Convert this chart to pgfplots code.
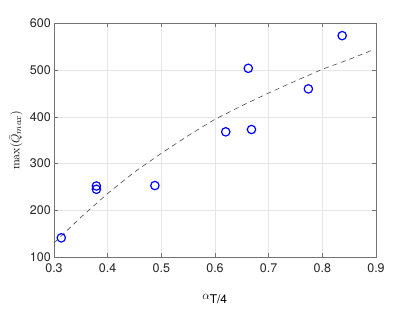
\documentclass[border=0pt]{standalone}
\usepackage[no-math]{fontspec}
\setmainfont{TeX Gyre Heros}
\usepackage{pgfplots}
\pgfplotsset{compat=1.18}
\definecolor{axgray}{gray}{0.45}
\definecolor{gridgray}{gray}{0.9}
\definecolor{fitgray}{gray}{0.3}
\begin{document}
\begin{tikzpicture}
\useasboundingbox (-54pt,-55pt) rectangle (361pt,257pt);
\begin{axis}[
  scale only axis,
  width=322pt, height=233.5pt,
  xmin=0.3, xmax=0.9, ymin=100, ymax=600,
  xtick={0.3,0.4,...,0.9},
  ytick={100,200,...,600},
  xticklabel style={/pgf/number format/fixed,/pgf/number format/precision=1,/pgf/number format/fixed zerofill, yshift=-3pt},
  /pgf/number format/assume math mode=true,
  tick label style={font=\fontsize{12.5}{14}\selectfont, text=black!85},
  yticklabel style={inner sep=1pt, xshift=-2pt},
  grid=major,
  major grid style={gridgray, line width=0.5pt},
  axis line style={axgray, line width=0.6pt},
  tick style={axgray, line width=0.5pt},
  tick align=inside,
  major tick length=3.5pt,
  xtick pos=both, ytick pos=both,
  xlabel={$\alpha_{\mbox{\fontsize{12}{14}\selectfont T/4}}$},
  ylabel={$\max(\bar{Q}_{max})$},
  xlabel style={font=\fontsize{13}{15}\selectfont, at={(axis description cs:0.5,0)}, anchor=center, yshift=-42pt},
  ylabel style={font=\fontsize{13}{15}\selectfont, at={(axis description cs:-0.118,0.5)}, anchor=center},
  clip=false,
]
\addplot[fitgray, dashed, dash pattern=on 5pt off 4pt, line width=0.6pt] coordinates {
(0.3,130) (0.35,185) (0.4,236) (0.45,282) (0.5,322) (0.55,360) (0.6,395)
(0.65,424) (0.7,451) (0.75,477) (0.8,502) (0.85,523) (0.893,543)
};
\addplot[only marks, mark=o, mark size=4.2pt, blue, line width=1.2pt] coordinates {
(0.3136,141) (0.379,252) (0.379,245) (0.488,253) (0.620,368) (0.668,373)
(0.662,504) (0.774,460) (0.837,574)
};
\end{axis}
\end{tikzpicture}
\end{document}
